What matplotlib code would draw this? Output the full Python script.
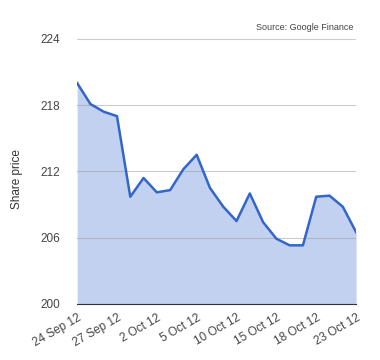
import matplotlib
matplotlib.use("Agg")
import matplotlib.pyplot as plt

plt.rcParams['font.family'] = ['Liberation Sans', 'DejaVu Sans']

# trading days 24 Sep 12 .. 23 Oct 12
days = ['24 Sep 12', '25 Sep 12', '26 Sep 12', '27 Sep 12', '28 Sep 12',
        '1 Oct 12', '2 Oct 12', '3 Oct 12', '4 Oct 12', '5 Oct 12',
        '8 Oct 12', '9 Oct 12', '10 Oct 12', '11 Oct 12', '12 Oct 12',
        '15 Oct 12', '16 Oct 12', '17 Oct 12', '18 Oct 12', '19 Oct 12',
        '22 Oct 12', '23 Oct 12']
price = [220.0, 218.1, 217.4, 217.0, 209.7, 211.4, 210.1, 210.3, 212.2, 213.5,
         210.5, 208.8, 207.5, 210.0, 207.4, 205.9, 205.3, 205.3, 209.7, 209.8,
         208.8, 206.5]
yticks = [200, 206, 212, 218, 224]

x = list(range(len(days)))

fig = plt.figure(figsize=(3.8, 3.6), dpi=100)
ax = fig.add_axes([0.203, 0.156, 0.734, 0.736])

ax.fill_between(x, price, 200, color='#c2d1ef', lw=0, zorder=1)
ax.plot(x, price, color='#3366cc', lw=1.8, zorder=3)

ax.set_xlim(0, len(days) - 1)
ax.set_ylim(200, 224)
ax.set_yticks(yticks)
ax.set_xticks(x[::3])
ax.set_xticklabels(days[::3], rotation=30, ha='right', rotation_mode='anchor')
ax.grid(axis='y', color='#999999', alpha=0.5, lw=0.8, zorder=2)
ax.set_axisbelow(False)

for s in ['left', 'right', 'top']:
    ax.spines[s].set_visible(False)
ax.spines['bottom'].set_color('#333333')
ax.spines['bottom'].set_zorder(4)
ax.tick_params(length=0, labelsize=8.5, colors='#444444')
ax.tick_params(axis='y', pad=12)
ax.tick_params(axis='x', pad=6)

fig.text(17 / 380, 1 - 179 / 360, 'Share price', fontsize=8.5, color='#333333',
         rotation=90, ha='center', va='center')
fig.text(0.93, 0.912, 'Source: Google Finance', fontsize=6.5, color='#444444',
         ha='right', va='bottom')

fig.savefig('out.png', dpi=100)
